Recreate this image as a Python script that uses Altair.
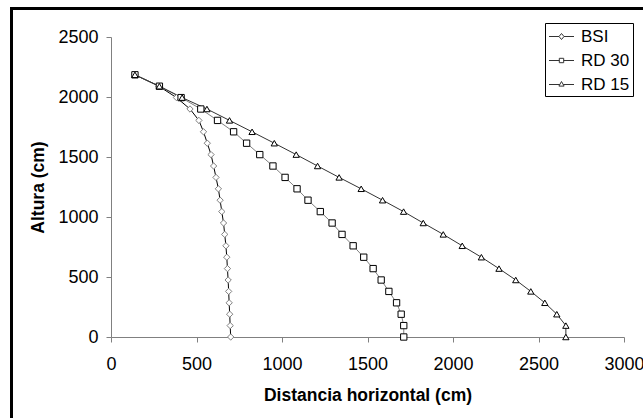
import altair as alt
import pandas as pd

# Height of each measurement level (cm)
heights = [0, 95, 190, 285, 380, 475, 570, 665, 760, 855, 950, 1045,
           1140, 1235, 1330, 1425, 1520, 1615, 1710, 1805, 1900, 1995, 2090, 2185]

# Horizontal distance (cm) reached at each level, per series
bsi = [700, 697, 694, 691, 688, 685, 681, 677, 672, 665, 658, 648,
       638, 628, 614, 600, 585, 563, 541, 514, 462, 383, 280, 140]
rd30 = [1712, 1712, 1697, 1670, 1625, 1580, 1533, 1478, 1416, 1351, 1293, 1224,
        1152, 1088, 1018, 947, 870, 793, 717, 623, 525, 410, 283, 140]
rd15 = [2660, 2660, 2607, 2537, 2455, 2367, 2269, 2166, 2054, 1943, 1826, 1711,
        1588, 1463, 1334, 1208, 1083, 955, 825, 693, 561, 416, 283, 140]

series_names = ["BSI", "RD 30", "RD 15"]
line_colors = ["#000000", "#808080", "#333333"]
marker_colors = ["#808080", "#000000", "#000000"]
marker_shapes = ["diamond", "square", "triangle-up"]
# legend keys: short line with the series marker in the middle
legend_keys = [
    "M-1.25,0H-0.25M0.25,0H1.25M0,-0.3L0.25,0L0,0.3L-0.25,0Z",
    "M-1.25,0H-0.22M0.22,0H1.25M-0.22,-0.22H0.22V0.22H-0.22Z",
    "M-1.25,0H-0.17M0.17,0H1.25M0,-0.3L0.26,0.16L-0.26,0.16Z",
]
x_ticks = [0, 500, 1000, 1500, 2000, 2500, 3000]
y_ticks = [0, 500, 1000, 1500, 2000, 2500]

rows = []
for name, xs in zip(series_names, [bsi, rd30, rd15]):
    for h, d in zip(heights, xs):
        rows.append({"serie": name, "dist": d, "altura": h})
df = pd.DataFrame(rows)

FONT = "Liberation Sans"

x_enc = alt.X(
    "dist:Q",
    scale=alt.Scale(domain=[0, 3000], nice=False),
    axis=alt.Axis(
        title="Distancia horizontal (cm)", values=x_ticks, format="d", grid=False,
        domainColor="#808080", tickColor="#808080", tickSize=5,
        labelFontSize=18, labelColor="#000", labelFont=FONT, labelPadding=13,
        labelFlush=False, labelOverlap=False,
        titleFontSize=17.5, titleFont=FONT, titleFontWeight="bold",
        titleColor="#000", titleY=49, titleBaseline="top",
    ),
)
y_enc = alt.Y(
    "altura:Q",
    scale=alt.Scale(domain=[0, 2500], nice=False),
    axis=alt.Axis(
        title="Altura (cm)", values=y_ticks, format="d", grid=False,
        domainColor="#808080", tickColor="#808080", tickSize=5,
        labelFontSize=18, labelColor="#000", labelFont=FONT, labelPadding=8,
        labelFlush=False, labelOverlap=False,
        titleFontSize=17.5, titleFont=FONT, titleFontWeight="bold",
        titleColor="#000", titleX=-68, titleBaseline="alphabetic",
    ),
)

base = alt.Chart(df)

lines = base.mark_line(strokeWidth=1).encode(
    x=x_enc,
    y=y_enc,
    order=alt.Order("altura:Q"),
    color=alt.Color("serie:N", scale=alt.Scale(domain=series_names, range=line_colors), legend=None),
)

points = base.mark_point(filled=True, fill="white", opacity=1, strokeWidth=1, size=40).encode(
    x="dist:Q",
    y="altura:Q",
    stroke=alt.Stroke("serie:N", scale=alt.Scale(domain=series_names, range=marker_colors), legend=None),
    shape=alt.Shape("serie:N", scale=alt.Scale(domain=series_names, range=marker_shapes), legend=None),
)

legend_layer = base.mark_point(opacity=0).encode(
    x="dist:Q",
    y="altura:Q",
    shape=alt.Shape(
        "serie:N",
        scale=alt.Scale(domain=series_names, range=legend_keys),
        legend=alt.Legend(
            title=None, orient="none", legendX=434, legendY=-14,
            symbolSize=400, symbolStrokeColor="#333333", symbolFillColor="white",
            symbolStrokeWidth=1, symbolOpacity=1, symbolOffset=3,
            labelFontSize=17, labelFont=FONT, labelColor="#000", labelOffset=9,
            rowPadding=5, padding=3, strokeColor="#000", fillColor="white",
        ),
    ),
)

# outer frame of the figure (left and top edges)
frame_src = alt.Chart(pd.DataFrame({"k": [0]}))
frame_left = frame_src.mark_rule(strokeWidth=3, color="#000").encode(
    x=alt.value(-99.5), y=alt.value(-30), y2=alt.value(381)
)
frame_top = frame_src.mark_rule(strokeWidth=3, color="#000").encode(
    x=alt.value(-101), x2=alt.value(532), y=alt.value(-28.5)
)

chart = (
    alt.layer(frame_left, frame_top, lines, points, legend_layer)
    .resolve_scale(shape="independent")
    .properties(
        width=513,
        height=300,
        padding={"left": 111, "top": 37, "right": 19, "bottom": 81},
        autosize=alt.AutoSizeParams(type="none"),
        background="white",
    )
    .configure_view(stroke=None)
)

chart.save("out.html", embed_options={"renderer": "svg", "actions": False})
